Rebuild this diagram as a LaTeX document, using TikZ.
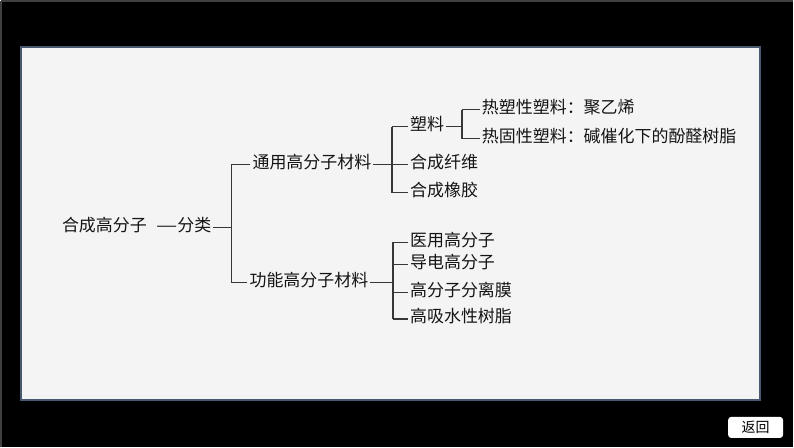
\documentclass[tikz,border=0pt]{standalone}
\usepackage{fontspec}
\usepackage{tikz}
\usepackage{xcolor}
\usetikzlibrary{positioning,calc}
\newfontfamily\cjk{Noto Sans CJK SC}
\definecolor{INK}{RGB}{20,20,20}
\definecolor{RULE}{RGB}{55,55,55}
\definecolor{PANEL}{RGB}{244,244,244}
\definecolor{PANELDK}{RGB}{72,88,112}
\definecolor{FRAME}{RGB}{64,64,64}

\begin{document}
\begin{tikzpicture}[x=1pt,y=-1pt,font=\cjk\fontsize{17}{17}\selectfont]
    \tikzset{item/.style={anchor=west,inner sep=2pt,text=INK,text height=0.88em,text depth=0.12em},
      br/.style={draw=RULE,line width=1.5pt}}
    % frame and panel
    \fill[black] (0,0) rectangle (794,447);
    \draw[FRAME,line width=2pt] (0,0) -- (794,0);
    \draw[FRAME,line width=2pt] (0,0) -- (0,447);
    \draw[fill=PANEL,draw=PANELDK,line width=1.5pt] (20,46) rectangle (761,400);
    \useasboundingbox (0,0) rectangle (794,447);
    % tree
    \node[item,anchor=east] (root) at (213,227) {合成高分子\hspace{0.55em}\scalebox{1.4}[1]{—}分类};
    \node[item] (gen) at (250,164) {通用高分子材料};
    \node[item] (fun) at (247,282) {功能高分子材料};
    \node[item] (plast) at (408,126) {塑料};
    \node[item] (fib) at (408,164) {合成纤维};
    \node[item] (rub) at (408,192) {合成橡胶};
    \node[item] (tp) at (480,109) {热塑性塑料：聚乙烯};
    \node[item] (ts) at (480,138) {热固性塑料：碱催化下的酚醛树脂};
    \node[item] (med) at (408,242) {医用高分子};
    \node[item] (cond) at (408,264) {导电高分子};
    \node[item] (memb) at (408,292) {高分子分离膜};
    \node[item] (sap) at (408,319) {高吸水性树脂};
    \coordinate (j1) at (231,227);
    \coordinate (j2) at (392,164);
    \coordinate (j3) at (393,282);
    \coordinate (j4) at (462,126);
    \draw[br] (root.east) -- (j1);
    \draw[br] (j1 |- gen.west) -- (j1 |- fun.west);
    \foreach \n in {gen,fun} \draw[br] (j1 |- \n.west) -- (\n.west);
    \draw[br] (gen.east) -- (j2);
    \draw[br] (j2 |- plast.west) -- (j2 |- rub.west);
    \foreach \n in {plast,fib,rub} \draw[br] (j2 |- \n.west) -- (\n.west);
    \draw[br] (fun.east) -- (j3);
    \draw[br] (j3 |- med.west) -- (j3 |- sap.west);
    \foreach \n in {med,cond,memb,sap} \draw[br] (j3 |- \n.west) -- (\n.west);
    \draw[br] (plast.east) -- (j4);
    \draw[br] (j4 |- tp.west) -- (j4 |- ts.west);
    \foreach \n in {tp,ts} \draw[br] (j4 |- \n.west) -- (\n.west);
    % back button
    \node[fill=white,rounded corners=3pt,minimum width=55pt,minimum height=21pt,inner sep=0pt,
      font=\cjk\fontsize{14}{14}\selectfont] (ret) at (756.5,427.5) {返回};
\end{tikzpicture}
\end{document}
